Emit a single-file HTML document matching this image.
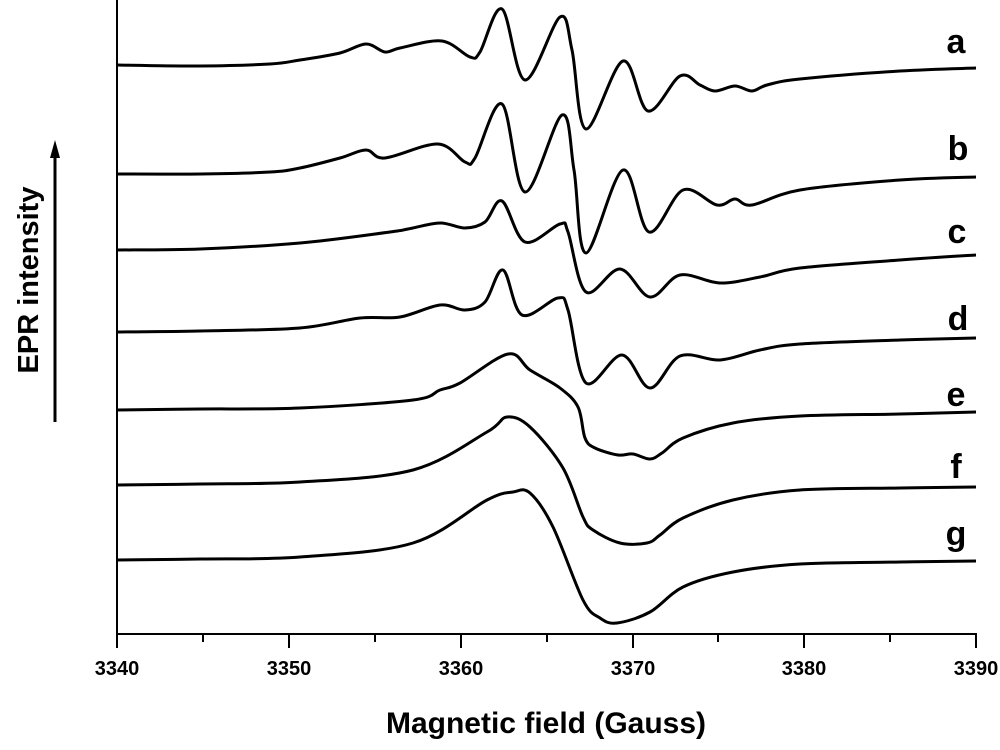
<!DOCTYPE html>
<html><head><meta charset="utf-8"><style>
body{margin:0;background:#fff;}
svg{display:block;font-family:"Liberation Sans",Arial,sans-serif;}
</style></head><body>
<svg id="s" width="1000" height="750" viewBox="0 0 1000 750">
<line x1="117" y1="0" x2="117" y2="634" stroke="#000" stroke-width="2"/>
<line x1="116" y1="634" x2="977" y2="634" stroke="#000" stroke-width="2"/>
<g stroke="#000" stroke-width="2">
<line x1="117" y1="634" x2="117" y2="648"/><line x1="289" y1="634" x2="289" y2="648"/><line x1="461" y1="634" x2="461" y2="648"/><line x1="633" y1="634" x2="633" y2="648"/><line x1="804" y1="634" x2="804" y2="648"/><line x1="976" y1="634" x2="976" y2="648"/>
<line x1="203" y1="634" x2="203" y2="642"/><line x1="375" y1="634" x2="375" y2="642"/><line x1="547" y1="634" x2="547" y2="642"/><line x1="718" y1="634" x2="718" y2="642"/><line x1="890" y1="634" x2="890" y2="642"/>
</g>
<g font-size="20" font-weight="bold" text-anchor="middle">
<text x="117" y="675">3340</text><text x="289" y="675">3350</text><text x="461" y="675">3360</text><text x="633" y="675">3370</text><text x="804" y="675">3380</text><text x="976" y="675">3390</text>
</g>
<text x="546" y="733" font-size="30" font-weight="bold" text-anchor="middle">Magnetic field (Gauss)</text>
<text transform="translate(38,280) rotate(-90)" font-size="29" font-weight="bold" text-anchor="middle">EPR intensity</text>
<line x1="55" y1="422" x2="55" y2="155" stroke="#000" stroke-width="3"/>
<polygon points="55,140 50,158 60,158" fill="#000"/>
<g font-size="34" font-weight="bold" text-anchor="middle">
<text x="956" y="53">a</text><text x="958" y="160">b</text><text x="957" y="243">c</text><text x="958" y="330">d</text><text x="956" y="406">e</text><text x="956" y="478">f</text><text x="956" y="545">g</text>
</g>
<g id="curves" fill="none" stroke="#000" stroke-width="3" stroke-linejoin="round"></g>
</svg>
<script>
var C=[
[[117,65],[200,66],[270,64],[300,60],[340,53],[366,44],[385,52],[400,48],[442,41],[470,57],[480,52],[502,9],[525,80],[560,17],[572,50],[586,129],[623,61],[648,111],[680,76],[700,85],[715,91],[735,86],[752,91],[767,85],[800,79],[900,71],[976,68]],
[[117,174],[200,174],[270,172],[300,168],[340,158],[366,150],[385,158],[438,144],[465,162],[475,158],[502,104],[525,192],[562,115],[574,170],[586,253],[623,170],[649,232],[683,190],[717,205],[735,199],[752,205],[800,190],[900,180],[976,177]],
[[117,250],[200,249],[300,243],[390,232],[408,229],[440,223],[465,228],[485,222],[502,201],[525,242],[560,224],[568,232],[586,292],[620,269],[650,297],[680,275],[720,283],[760,277],[800,268],[900,260],[976,255]],
[[117,332],[200,331],[300,328],[360,318],[400,317],[440,305],[465,310],[485,302],[503,270],[522,315],[558,298],[568,310],[586,383],[622,355],[650,388],[680,356],[720,360],[760,350],[800,344],[900,340],[976,338]],
[[117,410],[200,409],[300,408],[413,400],[440,390],[460,383],[508,354],[530,370],[560,388],[578,407],[585,438],[595,448],[618,455],[633,454],[650,459],[662,453],[683,438],[733,423],[800,416],[900,414],[976,412]],
[[117,485],[200,484],[300,482],[413,470],[487,432],[507,417],[530,427],[563,468],[583,517],[593,530],[620,543],[647,543],[660,535],[683,518],[733,500],[800,490],[900,488],[976,487]],
[[117,560],[200,559],[300,557],[413,543],[487,500],[513,492],[530,493],[553,527],[583,600],[600,618],[617,623],[650,612],[683,587],[733,572],[800,564],[900,562],[976,561]]
];
var g=document.getElementById('curves');
C.forEach(function(p){
 var d='M'+p[0][0]+','+p[0][1];
 for(var i=0;i<p.length-1;i++){
  var p0=p[Math.max(i-1,0)],p1=p[i],p2=p[i+1],p3=p[Math.min(i+2,p.length-1)];
  var c1x=p1[0]+(p2[0]-p0[0])/6,c1y=p1[1]+(p2[1]-p0[1])/6;
  var c2x=p2[0]-(p3[0]-p1[0])/6,c2y=p2[1]-(p3[1]-p1[1])/6;
  d+=' C'+c1x.toFixed(1)+','+c1y.toFixed(1)+' '+c2x.toFixed(1)+','+c2y.toFixed(1)+' '+p2[0]+','+p2[1];
 }
 var e=document.createElementNS('http://www.w3.org/2000/svg','path');
 e.setAttribute('d',d);g.appendChild(e);
});
</script>
</body></html>
